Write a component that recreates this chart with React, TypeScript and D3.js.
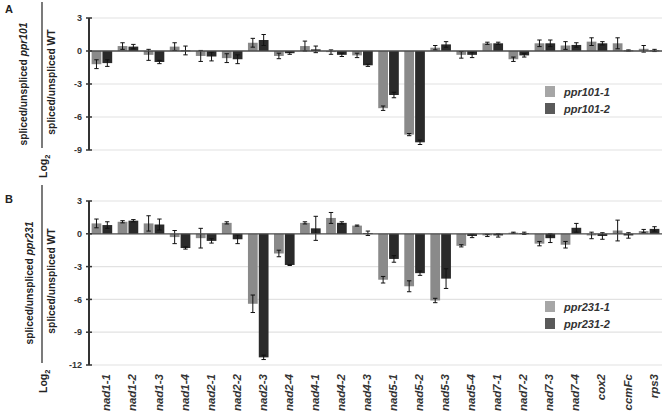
import React from "react";
import * as d3 from "d3";

const genes = ["nad1-1","nad1-2","nad1-3","nad1-4","nad2-1","nad2-2","nad2-3","nad2-4","nad4-1","nad4-2","nad4-3","nad5-1","nad5-2","nad5-3","nad5-4","nad7-1","nad7-2","nad7-3","nad7-4","cox2","ccmFc","rps3"];

const ppr101_1 = [-1.2, 0.45, -0.35, 0.4, -0.45, -0.65, 0.75, -0.45, 0.45, -0.1, -0.4, -5.2, -7.6, 0.3, -0.35, 0.7, -0.75, 0.7, 0.5, 0.85, 0.7, 0.2];
const ppr101_1err = [0.4, 0.3, 0.5, 0.35, 0.5, 0.4, 0.4, 0.25, 0.45, 0.2, 0.2, 0.2, 0.1, 0.2, 0.3, 0.1, 0.2, 0.3, 0.35, 0.35, 0.5, 0.3];
const ppr101_2 = [-1.1, 0.4, -1.0, 0.05, -0.5, -0.75, 1.0, -0.2, 0.15, -0.35, -1.3, -4.0, -8.3, 0.6, -0.35, 0.7, -0.4, 0.7, 0.55, 0.7, 0.05, 0.05];
const ppr101_2err = [0.3, 0.2, 0.15, 0.4, 0.4, 0.4, 0.5, 0.1, 0.3, 0.15, 0.1, 0.25, 0.2, 0.25, 0.25, 0.1, 0.15, 0.3, 0.2, 0.15, 0.05, 0.1];

const ppr231_1 = [0.95, 1.1, 0.95, -0.3, -0.4, 1.0, -6.4, -1.8, 1.0, 1.45, 0.75, -4.2, -4.8, -6.1, -1.1, -0.15, 0.1, -0.9, -1.0, -0.15, 0.3, 0.25];
const ppr231_1err = [0.4, 0.1, 0.7, 0.6, 0.9, 0.1, 0.8, 0.3, 0.1, 0.5, 0.05, 0.3, 0.5, 0.2, 0.1, 0.1, 0.05, 0.2, 0.3, 0.3, 0.95, 0.15];
const ppr231_2 = [0.8, 1.2, 0.85, -1.3, -0.65, -0.5, -11.3, -2.85, 0.5, 1.0, 0.05, -2.3, -3.6, -4.1, -0.2, -0.15, 0.05, -0.4, 0.55, -0.2, -0.15, 0.45];
const ppr231_2err = [0.3, 0.1, 0.5, 0.1, 0.2, 0.4, 0.2, 0.05, 1.1, 0.1, 0.2, 0.3, 0.2, 0.9, 0.15, 0.15, 0.1, 0.4, 0.4, 0.3, 0.25, 0.2];

const ticksA = [3, 0, -3, -6, -9];
const ticksB = [3, 0, -3, -6, -9, -12];

const LIGHT = "#8a8a8a";
const DARK = "#2a2a2a";
const LEG_LIGHT = "#a6a6a6";
const LEG_DARK = "#5a5a5a";
const FONT = "'Liberation Sans', Arial, sans-serif";

const X0 = 89;
const X1 = 662;

const x = d3.scaleBand<string>().domain(genes).range([X0, X1]).paddingInner(0.21).paddingOuter(0.1);
const xi = d3.scaleBand<string>().domain(["s1", "s2"]).range([0, x.bandwidth()]).paddingInner(0.1);

function Panel({ letter, ticks, domain, range, s1, e1, s2, e2, n1, n2, titleX, legY, top }: any) {
  const y = d3.scaleLinear().domain(domain).range(range);
  const y0 = y(0);
  const series = [
    { key: "s1", vals: s1, errs: e1, fill: LIGHT },
    { key: "s2", vals: s2, errs: e2, fill: DARK },
  ];
  const midY = (range[0] + range[1]) / 2;
  return (
    <g>
      <text x={5} y={top} fontFamily={FONT} fontWeight="bold" fontSize={11} fill="#222">{letter}</text>
      {/* gridlines */}
      {ticks.filter((t: number) => t !== 0).map((t: number) => (
        <line key={t} x1={X0} x2={X1} y1={y(t)} y2={y(t)} stroke="#e2e2e2" strokeWidth={1.2} />
      ))}
      {/* bars */}
      {series.map((s) =>
        genes.map((g, i) => {
          const v = s.vals[i];
          const bx = (x(g) as number) + (xi(s.key) as number);
          const bw = xi.bandwidth();
          const yt = Math.min(y(v), y0);
          const h = Math.abs(y(v) - y0);
          const cx = bx + bw / 2;
          const ea = y(v + s.errs[i]);
          const eb = y(v - s.errs[i]);
          return (
            <g key={s.key + g}>
              <rect x={bx} y={yt} width={bw} height={Math.max(h, 0.8)} fill={s.fill} />
              <line x1={cx} x2={cx} y1={ea} y2={eb} stroke="#111" strokeWidth={1} />
              <line x1={cx - 2.2} x2={cx + 2.2} y1={ea} y2={ea} stroke="#111" strokeWidth={1} />
              <line x1={cx - 2.2} x2={cx + 2.2} y1={eb} y2={eb} stroke="#111" strokeWidth={1} />
            </g>
          );
        })
      )}
      {/* zero line */}
      <line x1={X0} x2={X1} y1={y0} y2={y0} stroke="#4a4a4a" strokeWidth={1.3} />
      {/* axis */}
      <line x1={X0} x2={X0} y1={y(domain[1])} y2={y(domain[0])} stroke="#333" strokeWidth={2} />
      {ticks.map((t: number) => (
        <g key={"t" + t}>
          <line x1={X0 - 3} x2={X0 + 3} y1={y(t)} y2={y(t)} stroke="#333" strokeWidth={1.5} />
          <text x={X0 - 7} y={y(t)} dy="0.35em" textAnchor="end" fontFamily={FONT} fontWeight="bold" fontSize={9} fill="#333">{t}</text>
        </g>
      ))}
      {/* y title */}
      <g fontFamily={FONT} fontWeight="bold" fontSize={10.3} fill="#222">
        <text transform={`translate(${titleX},${midY}) rotate(-90)`} textAnchor="middle">
          spliced/unspliced <tspan fontStyle="italic">{n1 === "ppr101-1" ? "ppr101" : "ppr231"}</tspan>
        </text>
        <text transform={`translate(55,${midY - 2}) rotate(-90)`} textAnchor="middle">spliced/unspliced WT</text>
        <line x1={42} x2={42} y1={range[1] - 16} y2={range[0] - 2} stroke="#222" strokeWidth={1.2} />
        <text transform={`translate(47,${range[0] + 28}) rotate(-90)`} textAnchor="start" fontSize={10.5}>
          Log<tspan fontSize={7.5} dy="3">2</tspan>
        </text>
      </g>
      {/* legend */}
      <g fontFamily={FONT} fontWeight="bold" fontStyle="italic" fontSize={11} fill="#333">
        <rect x={545} y={legY} width={10} height={11} fill={LEG_LIGHT} />
        <text x={564} y={legY + 9.5}>{n1}</text>
        <rect x={545} y={legY + 17} width={10} height={11} fill={LEG_DARK} />
        <text x={564} y={legY + 26.5}>{n2}</text>
      </g>
    </g>
  );
}

export default function App() {
  return (
    <svg width={666} height={420} style={{ position: "absolute", left: 0, top: 0, background: "#fff" }}>
      <rect width={666} height={420} fill="#fff" />
      <Panel letter="A" top={13} ticks={ticksA} domain={[-9, 3]} range={[150, 18]}
        s1={ppr101_1} e1={ppr101_1err} s2={ppr101_2} e2={ppr101_2err}
        n1="ppr101-1" n2="ppr101-2" titleX={27} legY={86} />
      <Panel letter="B" top={203} ticks={ticksB} domain={[-12, 3]} range={[365, 201]}
        s1={ppr231_1} e1={ppr231_1err} s2={ppr231_2} e2={ppr231_2err}
        n1="ppr231-1" n2="ppr231-2" titleX={33} legY={301} />
      {genes.map((g) => {
        const cx = (x(g) as number) + x.bandwidth() / 2 + 8.5;
        return (
          <text key={g} transform={`translate(${cx},374) rotate(-90)`} textAnchor="end"
            fontFamily={FONT} fontWeight="bold" fontStyle="italic" fontSize={11.5} fill="#333">{g}</text>
        );
      })}
    </svg>
  );
}
